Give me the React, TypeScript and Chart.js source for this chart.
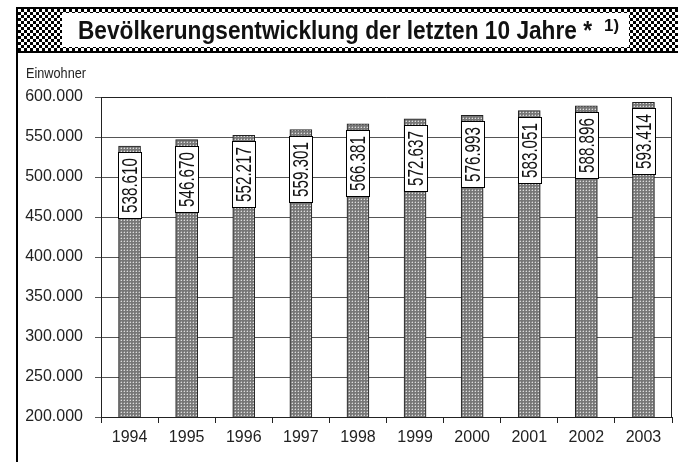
import React, { useEffect, useRef } from 'react';
import { Chart, registerables } from 'chart.js';

Chart.register(...registerables);

const years = ['1994', '1995', '1996', '1997', '1998', '1999', '2000', '2001', '2002', '2003'];
const population = [538610, 546670, 552217, 559301, 566381, 572637, 576993, 583051, 588896, 593414];
const yMin = 200000;
const yMax = 600000;
const yStep = 50000;
const titleMain = 'Bevölkerungsentwicklung der letzten 10 Jahre *';
const titleSup = '1)';
const yAxisTitle = 'Einwohner';

const FONT = '"Liberation Sans", Arial, sans-serif';

function fmt(v: number): string {
  return String(Math.round(v)).replace(/\B(?=(\d{3})+(?!\d))/g, '.');
}

function makeBarPattern(ctx: CanvasRenderingContext2D): CanvasPattern | string {
  const c = document.createElement('canvas');
  c.width = 3;
  c.height = 3;
  const p = c.getContext('2d');
  if (!p) return '#999';
  p.fillStyle = '#777777';
  p.fillRect(0, 0, 3, 3);
  p.fillStyle = '#dddddd';
  p.fillRect(1, 1, 1, 1);
  p.fillStyle = '#999999';
  p.fillRect(0, 1, 1, 1);
  p.fillRect(1, 0, 1, 1);
  return ctx.createPattern(c, 'repeat') || '#999';
}

function makeChecker(ctx: CanvasRenderingContext2D): CanvasPattern | string {
  const c = document.createElement('canvas');
  c.width = 6;
  c.height = 6;
  const p = c.getContext('2d');
  if (!p) return '#888';
  p.fillStyle = '#fff';
  p.fillRect(0, 0, 6, 6);
  p.fillStyle = '#000';
  p.fillRect(0, 0, 3, 3);
  p.fillRect(3, 3, 3, 3);
  return ctx.createPattern(c, 'repeat') || '#888';
}

const decorPlugin = {
  id: 'decor',
  beforeDraw(chart: any) {
    const ctx: CanvasRenderingContext2D = chart.ctx;
    ctx.save();
    ctx.fillStyle = '#fff';
    ctx.fillRect(0, 0, chart.width, chart.height);
    // checker band
    ctx.fillStyle = makeChecker(ctx);
    ctx.fillRect(16, 8, chart.width - 16, 45);
    ctx.strokeStyle = '#000';
    ctx.lineWidth = 2;
    ctx.beginPath();
    ctx.moveTo(16, 8);
    ctx.lineTo(chart.width, 8);
    ctx.moveTo(16, 52);
    ctx.lineTo(chart.width, 52);
    ctx.moveTo(17, 8);
    ctx.lineTo(17, chart.height);
    ctx.stroke();
    // title box
    ctx.fillStyle = '#fff';
    ctx.fillRect(62, 13, 567, 34);
    // title text
    ctx.fillStyle = '#111';
    ctx.font = 'bold 26px ' + FONT;
    ctx.textBaseline = 'alphabetic';
    ctx.textAlign = 'left';
    const w = ctx.measureText(titleMain).width;
    ctx.save();
    ctx.translate(78, 39);
    ctx.scale(514 / w, 1);
    ctx.fillText(titleMain, 0, 0);
    ctx.restore();
    ctx.font = 'bold 16px ' + FONT;
    const ws = ctx.measureText(titleSup).width;
    ctx.save();
    ctx.translate(604, 31);
    ctx.scale(15 / ws, 1);
    ctx.fillText(titleSup, 0, 0);
    ctx.restore();
    // axis title
    ctx.font = '14px ' + FONT;
    ctx.textBaseline = 'middle';
    ctx.fillStyle = '#222';
    const wa = ctx.measureText(yAxisTitle).width;
    ctx.save();
    ctx.translate(26, 74);
    ctx.scale(60 / wa, 1);
    ctx.fillText(yAxisTitle, 0, 0);
    ctx.restore();
    ctx.restore();
  },
  afterDatasetsDraw(chart: any) {
    const ctx: CanvasRenderingContext2D = chart.ctx;
    const meta = chart.getDatasetMeta(0);
    ctx.save();
    meta.data.forEach((bar: any, i: number) => {
      const { x, y } = bar.getProps(['x', 'y'], true);
      const bw = 23;
      const top = Math.round(y) + 6.5;
      const h = 66;
      const left = Math.round(x - bw / 2) + 0.5;
      ctx.fillStyle = '#fff';
      ctx.fillRect(left, top, bw, h);
      ctx.strokeStyle = '#000';
      ctx.lineWidth = 1;
      ctx.strokeRect(left, top, bw, h);
      const t = fmt(population[i]);
      ctx.save();
      ctx.translate(left + bw / 2, top + h / 2);
      ctx.rotate(-Math.PI / 2);
      ctx.font = '22px ' + FONT;
      const tw = ctx.measureText(t).width;
      ctx.scale(55 / tw, 1);
      ctx.textAlign = 'center';
      ctx.textBaseline = 'middle';
      ctx.fillStyle = '#111';
      ctx.fillText(t, 0, 1);
      ctx.restore();
    });
    ctx.restore();
  },
  afterDraw(chart: any) {
    const ctx: CanvasRenderingContext2D = chart.ctx;
    const a = chart.chartArea;
    ctx.save();
    ctx.strokeStyle = '#222';
    ctx.lineWidth = 1;
    ctx.beginPath();
    ctx.moveTo(Math.round(a.left) + 0.5, Math.round(a.top) + 0.5);
    ctx.lineTo(Math.round(a.right) - 0.5, Math.round(a.top) + 0.5);
    ctx.lineTo(Math.round(a.right) - 0.5, Math.round(a.bottom));
    ctx.stroke();
    ctx.restore();
  },
};

export default function App() {
  const ref = useRef<HTMLCanvasElement | null>(null);
  useEffect(() => {
    const canvas = ref.current;
    if (!canvas) return;
    const ctx = canvas.getContext('2d');
    if (!ctx) return;
    const chart = new Chart(canvas, {
      type: 'bar',
      data: {
        labels: years,
        datasets: [
          {
            data: population,
            backgroundColor: makeBarPattern(ctx) as any,
            borderColor: '#222',
            borderWidth: 1,
            barThickness: 22,
          },
        ],
      },
      options: {
        animation: false,
        responsive: false,
        devicePixelRatio: 1,
        layout: { padding: { top: 97, right: 6, left: 0, bottom: 0 } },
        plugins: { legend: { display: false }, tooltip: { enabled: false }, title: { display: false } },
        scales: {
          x: {
            grid: { drawOnChartArea: false, tickLength: 6, color: '#222', offset: true },
            border: { color: '#222', width: 1 },
            ticks: { font: { family: FONT, size: 16 }, color: '#222', padding: 5, maxRotation: 0 },
            afterFit(s: any) {
              s.height = 45;
            },
          },
          y: {
            min: yMin,
            max: yMax,
            ticks: {
              stepSize: yStep,
              callback: (v: any) => fmt(Number(v)),
              font: { family: FONT, size: 16 },
              color: '#222',
              padding: 12,
            },
            grid: { color: '#555', tickLength: 6 },
            border: { color: '#222', width: 1 },
            afterFit(s: any) {
              s.width = 101;
            },
          },
        },
      },
      plugins: [decorPlugin],
    });
    return () => chart.destroy();
  }, []);
  return (
    <div style={{ position: 'absolute', left: 0, top: 0, width: 678, height: 462 }}>
      <canvas ref={ref} width={678} height={462} style={{ display: 'block', width: 678, height: 462 }} />
    </div>
  );
}
